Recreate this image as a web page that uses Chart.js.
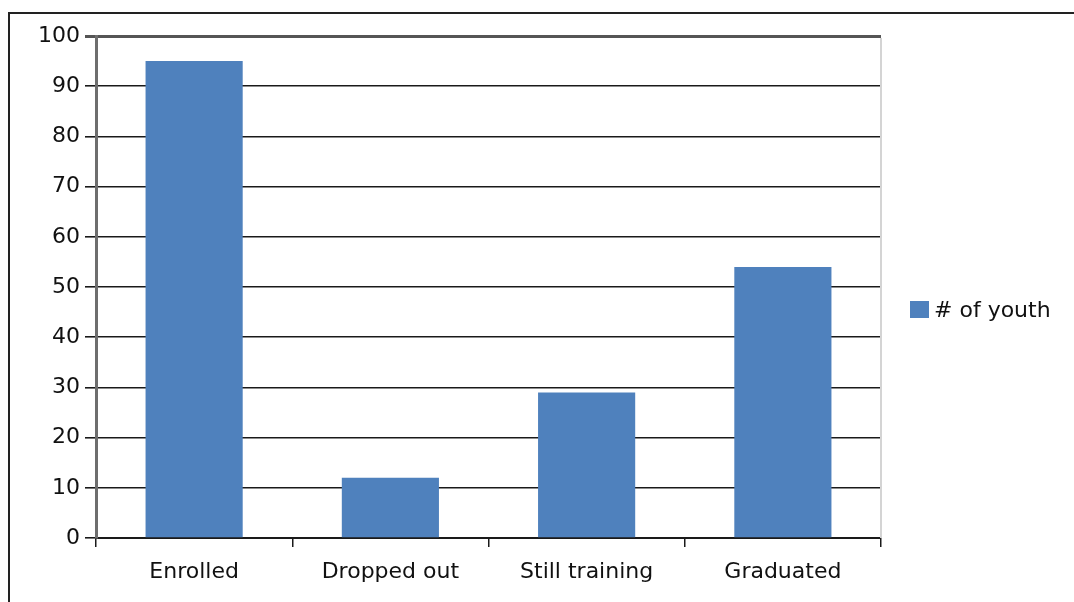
<!DOCTYPE html>
<html>
<head>
<meta charset="utf-8">
<script src="https://cdn.jsdelivr.net/npm/chart.js@4"></script>
<style>
  body { margin: 0; background: #fff; }
  #wrap { position: relative; width: 1074px; height: 602px; }
  #frame {
    position: absolute; left: 8px; top: 12px; right: -4px; bottom: -4px;
    border-left: 2px solid #222; border-top: 2px solid #222;
  }
  canvas { position: absolute; left: 0; top: 0; }
</style>
</head>
<body>
<div id="wrap">
  <div id="frame"></div>
  <canvas id="chart" width="1074" height="602"></canvas>
</div>
<script>
const categories = ['Enrolled', 'Dropped out', 'Still training', 'Graduated'];
const youthCounts = [95, 12, 29, 54];
const seriesLabel = '# of youth';
const yTicks = [0, 10, 20, 30, 40, 50, 60, 70, 80, 90, 100];

const barColor = '#4F81BD';
const textColor = '#111';
const font = { family: 'DejaVu Sans', size: 22 };

// right border of the plot area plus a hand drawn legend
const extras = {
    id: 'extras',
    afterDraw(chart) {
        const ctx = chart.ctx;
        const area = chart.chartArea;
        ctx.save();
        ctx.strokeStyle = '#d4d4d4';
        ctx.lineWidth = 2;
        ctx.beginPath();
        ctx.moveTo(area.right, area.top + 2);
        ctx.lineTo(area.right, area.bottom);
        ctx.stroke();

        const ds = chart.data.datasets[0];
        ctx.fillStyle = ds.backgroundColor;
        ctx.fillRect(910, 301, 19, 17);
        ctx.fillStyle = textColor;
        ctx.font = `${font.size}px ${font.family}`;
        ctx.textBaseline = 'middle';
        ctx.fillText(ds.label, 934, 311);
        ctx.restore();
    }
};

new Chart(document.getElementById('chart'), {
    type: 'bar',
    data: {
        labels: categories,
        datasets: [{
            label: seriesLabel,
            data: youthCounts,
            backgroundColor: barColor,
            barPercentage: 1,
            categoryPercentage: 0.495
        }]
    },
    options: {
        responsive: false,
        animation: false,
        layout: { padding: { top: 36, left: 0, right: 193, bottom: 0 } },
        plugins: {
            legend: { display: false },
            tooltip: { enabled: false }
        },
        scales: {
            x: {
                grid: {
                    drawOnChartArea: false,
                    color: '#1a1a1a',
                    lineWidth: 1.5,
                    tickLength: 9
                },
                border: { color: '#1a1a1a', width: 2 },
                ticks: { color: textColor, font: font, padding: 12 },
                afterFit(scale) { scale.height = 64; }
            },
            y: {
                min: 0,
                max: 100,
                afterBuildTicks(scale) {
                    scale.ticks = yTicks.map(v => ({ value: v }));
                },
                grid: {
                    color: ctx => ctx.tick && ctx.tick.value === 100 ? '#555' : '#1a1a1a',
                    lineWidth: ctx => ctx.tick && ctx.tick.value === 100 ? 3 : 1.6,
                    tickLength: 11
                },
                border: { color: '#6e6e6e', width: 3 },
                ticks: { color: textColor, font: font, padding: 5 },
                afterFit(scale) { scale.width = 96; }
            }
        }
    },
    plugins: [extras]
});
</script>
</body>
</html>
